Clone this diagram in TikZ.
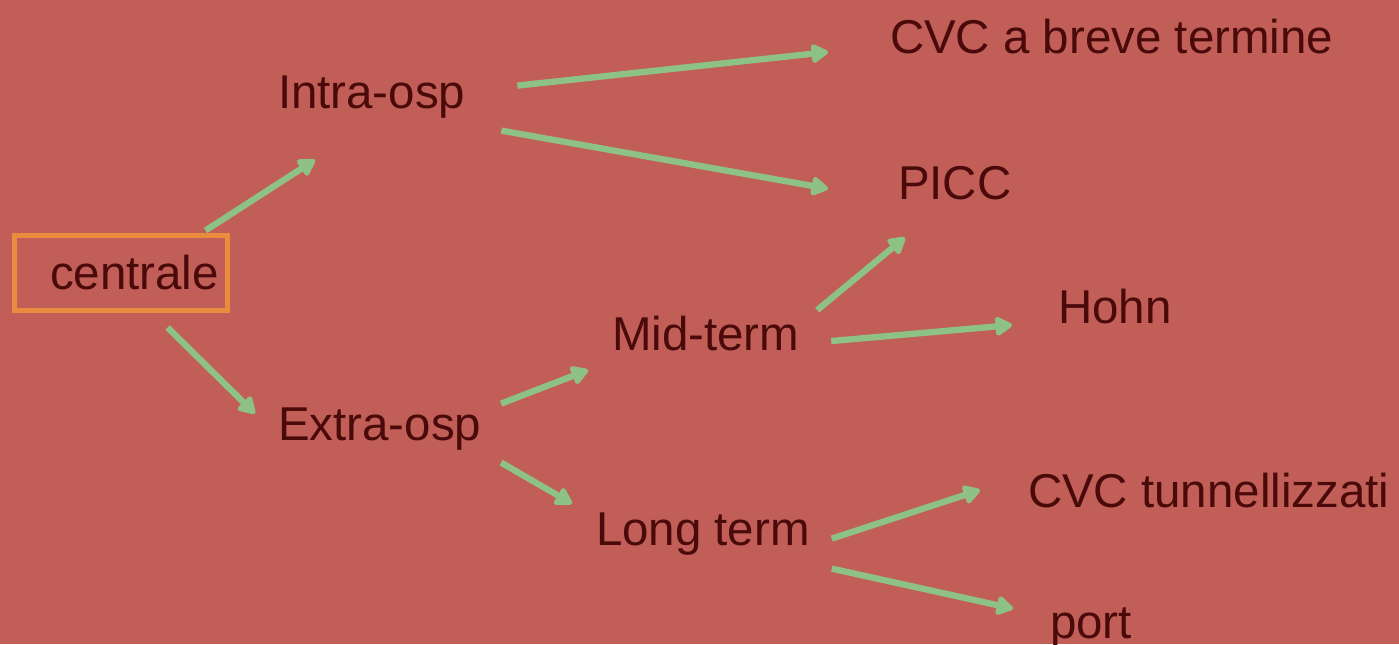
\documentclass[tikz,border=0pt]{standalone}
\usepackage{fontspec}
\setmainfont{Liberation Sans}
\usepackage{tikz}
\usetikzlibrary{calc,arrows.meta}
\definecolor{slidebg}{HTML}{C15E58}
\definecolor{labeltext}{HTML}{4A0A0A}
\definecolor{arrowgreen}{HTML}{8EC184}
\definecolor{boxorange}{HTML}{EA8C3E}

\begin{document}
\begin{tikzpicture}[x=0.01cm, y=-0.01cm,
    lbl/.style={font=\fontsize{13.5}{16}\selectfont, text=labeltext, inner sep=0, outer sep=0, anchor=base west},
    rootbox/.style={draw=boxorange, line width=1.6pt, font=\fontsize{13.5}{16}\selectfont, text=labeltext,
      minimum width=2.13cm, minimum height=0.75cm, inner sep=0, outer sep=0},
    arr/.style={draw=arrowgreen, line width=1.8pt, -{Triangle[length=0.19cm, width=0.21cm, round]}}]
  % Background
  \fill[slidebg] (0,0) rectangle (1399,644);
  \useasboundingbox (0,0) rectangle (1399,644);

  % Root
  \node[rootbox] (centrale) at (121,273) {\hspace*{0.27cm}centrale};

  % Level 1
  \node[lbl] (intra) at (278,108) {Intra-osp};
  \node[lbl] (extra) at (278,440) {Extra-osp};

  % Level 2
  \node[lbl] (mid) at (612,350) {Mid-term};
  \node[lbl] (long) at (596,545) {Long term};

  % Leaves
  \node[lbl] (cvcBreve) at (890,53) {CVC a breve termine};
  \node[lbl] (picc) at (898,199) {PICC};
  \node[lbl] (hohn) at (1058,323) {Hohn};
  \node[lbl] (cvcTunnel) at (1028,507) {CVC tunnellizzati};
  \node[lbl] (port) at (1050,638) {port};

  % Arrows from centrale
  \draw[arr] ($(centrale.north east)+(-22,-5)$) -- ($(intra.south west)+(37,42)$);
  \draw[arr] ($(centrale.south east)+(-60,17)$) -- ($(extra.west)+(-23,-15)$);

  % Arrows from Intra-osp
  \draw[arr] ($(intra.east)+(52,-11)$) -- ($(cvcBreve.west)+(-62,16)$);
  \draw[arr] ($(intra.east)+(36,34)$) -- ($(picc.west)+(-70,6)$);

  % Arrows from Extra-osp
  \draw[arr] ($(extra.east)+(20,-25)$) -- ($(mid.west)+(-24,37)$);
  \draw[arr] ($(extra.east)+(20,34)$) -- ($(long.west)+(-24,-30)$);

  % Arrows from Mid-term
  \draw[arr] ($(mid.east)+(18,-23)$) -- ($(picc.south west)+(7,38)$);
  \draw[arr] ($(mid.east)+(32,8)$) -- ($(hohn.west)+(-46,19)$);

  % Arrows from Long term
  \draw[arr] ($(long.east)+(22,5)$) -- ($(cvcTunnel.west)+(-48,0)$);
  \draw[arr] ($(long.east)+(22,35)$) -- ($(port.west)+(-37,-19)$);
\end{tikzpicture}
\end{document}
